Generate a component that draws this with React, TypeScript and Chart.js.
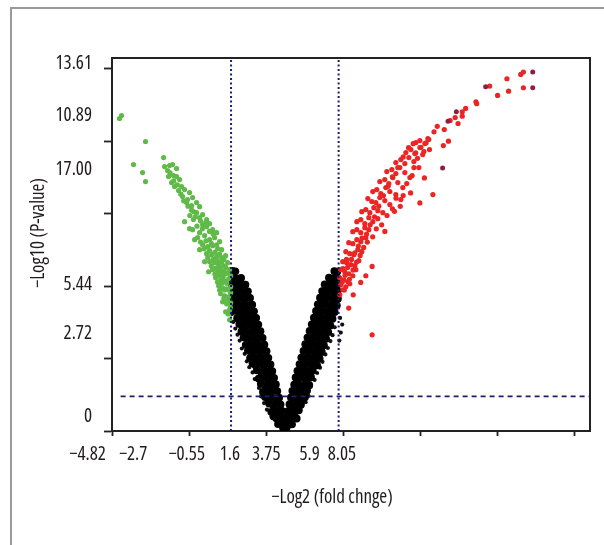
import React, { useEffect, useRef } from 'react';
import { Chart, registerables } from 'chart.js';

Chart.register(...registerables);

// ---------- axis data ----------
const xMin = -4.82;
const xMax = 8.51;
const yMin = 0;
const yMax = 14.02;
const xTickValues = [-4.82, -2.67, -0.52, 1.63, 3.78, 5.93, 8.08];
const xTickLabels = ['\u22124.82', '\u22122.7', '\u22120.55', '1.6', '3.75', '5.9', '8.05'];
const xLabelAt = [-5.5, -4.23, -2.737, -1.533, -0.518, 0.69, 1.593];
const yTickValues = [0, 2.722, 5.444, 8.166, 10.888, 13.61];
const yTickLabels = ['13.61', '10.89', '17.00', '5.44', '2.72', '0'];
const yLabelAt = [13.806, 11.844, 9.826, 5.497, 3.652, 0.527];
const xThresholds = [-1.5, 1.5];
const yThreshold = 1.3;
const xTitle = '\u2212Log2 (fold chnge)';
const yTitle = '\u2212Log10 (P-value)';

// ---------- series data [log2FC, -log10 p] ----------
const blackLeft: number[][] = [
  [0.0, 0.04], [-0.05, 0.12], [0.05, 0.12],
  [-0.03, 0.28], [-0.11, 0.3], [-0.19, 0.26],
  [-0.05, 0.5], [-0.14, 0.52], [-0.24, 0.48], [-0.32, 0.55],
  [-0.08, 0.76], [-0.18, 0.74], [-0.28, 0.78], [-0.38, 0.72],
  [-0.12, 1.0], [-0.22, 1.02], [-0.33, 0.98], [-0.44, 1.03],
  [-0.16, 1.25], [-0.26, 1.23], [-0.37, 1.27], [-0.48, 1.22], [-0.55, 1.28],
  [-0.21, 1.5], [-0.31, 1.52], [-0.41, 1.48], [-0.52, 1.53], [-0.61, 1.47],
  [-0.25, 1.75], [-0.35, 1.73], [-0.46, 1.77], [-0.56, 1.72], [-0.67, 1.78],
  [-0.3, 2.0], [-0.4, 2.02], [-0.5, 1.98], [-0.61, 2.03], [-0.73, 1.97],
  [-0.35, 2.25], [-0.45, 2.23], [-0.56, 2.27], [-0.66, 2.22], [-0.78, 2.28],
  [-0.4, 2.5], [-0.5, 2.52], [-0.61, 2.48], [-0.71, 2.53], [-0.82, 2.47], [-0.9, 2.55],
  [-0.46, 2.75], [-0.56, 2.73], [-0.66, 2.77], [-0.77, 2.72], [-0.88, 2.78], [-0.97, 2.74],
  [-0.51, 3.0], [-0.61, 3.02], [-0.72, 2.98], [-0.83, 3.03], [-0.93, 2.97], [-1.03, 3.02],
  [-0.57, 3.25], [-0.67, 3.23], [-0.78, 3.27], [-0.88, 3.22], [-0.99, 3.28], [-1.09, 3.24],
  [-0.62, 3.5], [-0.72, 3.52], [-0.83, 3.48], [-0.94, 3.53], [-1.05, 3.47], [-1.15, 3.52],
  [-0.68, 3.75], [-0.78, 3.73], [-0.89, 3.77], [-1.0, 3.72], [-1.1, 3.78], [-1.21, 3.74],
  [-0.74, 4.0], [-0.84, 4.02], [-0.95, 3.98], [-1.05, 4.03], [-1.16, 3.97], [-1.27, 4.02],
  [-0.8, 4.25], [-0.9, 4.23], [-1.0, 4.27], [-1.11, 4.22], [-1.22, 4.28], [-1.33, 4.24],
  [-0.86, 4.5], [-0.96, 4.52], [-1.06, 4.48], [-1.17, 4.53], [-1.28, 4.47], [-1.39, 4.52],
  [-0.91, 4.75], [-1.01, 4.73], [-1.12, 4.77], [-1.23, 4.72], [-1.34, 4.78], [-1.45, 4.74],
  [-0.97, 5.0], [-1.07, 5.02], [-1.18, 4.98], [-1.29, 5.03], [-1.4, 4.97], [-1.48, 5.02],
  [-1.03, 5.25], [-1.13, 5.23], [-1.24, 5.27], [-1.35, 5.22], [-1.46, 5.28],
  [-1.1, 5.5], [-1.2, 5.52], [-1.3, 5.48], [-1.4, 5.53], [-1.48, 5.47],
  [-1.22, 5.75], [-1.32, 5.73], [-1.42, 5.77], [-1.48, 5.72],
  [-1.38, 6.0], [-1.46, 6.02],
];

const blackRight: number[][] = [
  [0.04, 0.26], [0.12, 0.29], [0.2, 0.25],
  [0.06, 0.51], [0.15, 0.49], [0.25, 0.53], [0.33, 0.47],
  [0.09, 0.75], [0.19, 0.77], [0.29, 0.73], [0.39, 0.78],
  [0.13, 1.01], [0.23, 0.98], [0.34, 1.03], [0.45, 0.99],
  [0.17, 1.26], [0.27, 1.24], [0.38, 1.28], [0.49, 1.23], [0.56, 1.27],
  [0.21, 1.51], [0.31, 1.49], [0.42, 1.53], [0.53, 1.48], [0.62, 1.52],
  [0.26, 1.74], [0.36, 1.76], [0.47, 1.72], [0.57, 1.77], [0.68, 1.73],
  [0.3, 2.01], [0.4, 1.99], [0.51, 2.03], [0.62, 1.98], [0.73, 2.02],
  [0.35, 2.26], [0.45, 2.24], [0.56, 2.28], [0.67, 2.23], [0.78, 2.27],
  [0.41, 2.51], [0.51, 2.49], [0.62, 2.53], [0.72, 2.48], [0.83, 2.52], [0.9, 2.47],
  [0.46, 2.76], [0.56, 2.74], [0.67, 2.78], [0.78, 2.73], [0.88, 2.77], [0.97, 2.72],
  [0.52, 3.01], [0.62, 2.99], [0.73, 3.03], [0.84, 2.98], [0.94, 3.02], [1.03, 2.97],
  [0.57, 3.26], [0.67, 3.24], [0.78, 3.28], [0.89, 3.23], [1.0, 3.27], [1.09, 3.22],
  [0.63, 3.51], [0.73, 3.49], [0.84, 3.53], [0.95, 3.48], [1.05, 3.52], [1.15, 3.47],
  [0.69, 3.76], [0.79, 3.74], [0.9, 3.78], [1.0, 3.73], [1.11, 3.77], [1.21, 3.72],
  [0.75, 4.01], [0.85, 3.99], [0.96, 4.03], [1.06, 3.98], [1.17, 4.02], [1.27, 3.97],
  [0.81, 4.26], [0.91, 4.24], [1.01, 4.28], [1.12, 4.23], [1.23, 4.27], [1.33, 4.22],
  [0.87, 4.51], [0.97, 4.49], [1.07, 4.53], [1.18, 4.48], [1.29, 4.52], [1.39, 4.47],
  [0.92, 4.76], [1.02, 4.74], [1.13, 4.78], [1.24, 4.73], [1.35, 4.77], [1.45, 4.72],
  [0.98, 5.01], [1.08, 4.99], [1.19, 5.03], [1.3, 4.98], [1.41, 5.02], [1.48, 4.97],
  [1.04, 5.26], [1.14, 5.24], [1.25, 5.28], [1.36, 5.23], [1.47, 5.27],
  [1.11, 5.51], [1.21, 5.49], [1.31, 5.53], [1.41, 5.48], [1.48, 5.52],
  [1.23, 5.76], [1.33, 5.74], [1.43, 5.78], [1.48, 5.73],
  [1.38, 6.01], [1.46, 5.99],
];

const blackScatter: number[][] = [
  [-0.66, 1.3], [-0.72, 1.62], [-0.84, 1.95], [-0.9, 2.2], [-0.99, 2.4], [-1.06, 2.62],
  [-1.12, 2.9], [-1.2, 3.1], [-1.26, 3.4], [-1.32, 3.62], [-1.38, 3.85], [-1.44, 4.1],
  [-1.47, 4.4], [-0.58, 1.05], [-0.5, 0.8],
  [0.66, 1.32], [0.72, 1.66], [0.83, 1.92], [0.9, 2.18], [0.98, 2.38], [1.05, 2.6],
  [1.13, 2.88], [1.2, 3.12], [1.27, 3.38], [1.33, 3.6], [1.52, 3.4], [1.56, 3.7],
  [1.6, 4.0], [1.54, 4.25], [1.39, 3.9], [0.58, 1.08],
];

const greenPoints: number[][] = [
  [-4.611, 11.746], [-4.555, 11.859], [-3.885, 10.881], [-4.22, 10.015], [-3.968, 9.713],
  [-3.885, 9.375], [-3.382, 10.278], [-3.354, 9.939], [-3.215, 9.977], [-3.131, 10.015],
  [-3.019, 9.864], [-3.27, 9.788], [-3.242, 9.563], [-3.103, 9.6], [-3.019, 9.563],
  [-2.935, 9.45], [-3.159, 9.337], [-3.075, 9.186], [-2.879, 9.186], [-2.963, 9.036],
  [-2.796, 9.073], [-2.851, 8.81], [-2.656, 8.96], [-2.572, 8.772], [-2.712, 8.697],
  [-2.74, 8.584], [-2.461, 8.584], [-2.377, 8.433], [-2.6, 8.471], [-2.461, 8.208],
  [-2.293, 8.132], [-2.181, 7.944], [-2.377, 8.019], [-2.544, 8.245], [-2.572, 7.567],
  [-2.377, 7.455], [-2.181, 7.68], [-2.014, 7.567], [-1.902, 7.455], [-2.293, 7.756],
  [-2.098, 7.793],
  [-2.433, 7.266], [-2.237, 7.342], [-2.098, 7.191], [-1.958, 7.266], [-1.818, 7.116],
  [-2.293, 7.003], [-2.153, 6.927], [-2.014, 6.965], [-1.874, 6.852], [-1.763, 6.814],
  [-2.181, 6.664], [-2.042, 6.626], [-1.902, 6.551], [-1.763, 6.513], [-1.651, 6.589],
  [-2.098, 6.363], [-1.958, 6.325], [-1.846, 6.25], [-1.707, 6.212], [-1.595, 6.325],
  [-2.014, 6.062], [-1.874, 5.986], [-1.763, 5.949], [-1.651, 5.911], [-1.539, 6.062],
  [-1.93, 5.76], [-1.79, 5.685], [-1.679, 5.647], [-1.567, 5.723], [-1.511, 5.836],
  [-1.846, 5.459], [-1.735, 5.384], [-1.623, 5.346], [-1.511, 5.421],
  [-1.79, 5.158], [-1.679, 5.083], [-1.567, 5.045], [-1.511, 5.196],
  [-1.735, 4.857], [-1.623, 4.781], [-1.511, 4.819],
  [-1.651, 4.48], [-1.539, 4.556], [-1.539, 4.179],
  [-2.796, 7.869], [-2.656, 7.605], [-2.516, 7.191], [-2.377, 6.814], [-2.237, 6.363],
  [-2.126, 5.986],
  [-2.35, 7.1], [-2.2, 7.15], [-2.05, 7.05], [-1.9, 7.0], [-2.25, 6.85], [-2.1, 6.78],
  [-1.95, 6.72], [-1.82, 6.65], [-1.7, 6.45], [-2.15, 6.52], [-2.0, 6.45], [-1.88, 6.4],
  [-1.76, 6.35], [-1.65, 6.15], [-2.05, 6.2], [-1.92, 6.12], [-1.8, 6.1], [-1.7, 6.0],
  [-1.58, 5.95], [-1.95, 5.9], [-1.83, 5.85], [-1.72, 5.8], [-1.62, 5.55], [-1.88, 5.6],
  [-1.76, 5.55], [-1.68, 5.3], [-1.56, 5.3], [-1.82, 5.3], [-1.7, 5.0], [-1.6, 4.9],
  [-1.52, 4.65], [-1.58, 4.4],
  [-2.5, 8.05], [-2.35, 7.9], [-2.2, 7.85], [-2.45, 7.7], [-2.3, 7.6], [-2.1, 7.5],
  [-2.0, 7.4], [-2.6, 8.3], [-2.7, 8.45], [-2.82, 8.65], [-2.9, 8.9], [-3.0, 9.25],
  [-3.1, 9.4], [-3.2, 9.7], [-2.55, 7.95], [-2.65, 8.1],
];

const redPoints: number[][] = [
  [1.532, 5.12], [1.616, 5.309], [1.7, 5.422], [1.56, 5.497],
  [1.532, 5.76], [1.644, 5.685], [1.755, 5.61], [1.811, 5.534],
  [1.56, 6.062], [1.672, 5.986], [1.783, 5.911], [1.895, 5.836], [1.979, 6.062],
  [1.616, 6.363], [1.727, 6.325], [1.839, 6.25], [1.951, 6.213], [2.063, 6.401],
  [1.7, 6.739], [1.811, 6.664], [1.923, 6.626], [2.035, 6.814], [2.146, 6.739],
  [1.783, 7.078], [1.895, 7.04], [2.007, 7.191], [2.118, 7.116], [2.258, 7.266],
  [1.895, 7.492], [2.007, 7.567], [2.118, 7.454], [2.23, 7.643], [2.342, 7.567],
  [2.007, 7.869], [2.118, 7.944], [2.23, 7.794], [2.342, 8.019], [2.453, 7.869], [2.593, 7.982],
  [2.146, 8.245], [2.258, 8.321], [2.37, 8.207], [2.481, 8.395], [2.593, 8.283], [2.733, 8.207],
  [2.425, 8.622], [2.537, 8.584], [2.649, 8.772], [2.788, 8.66], [2.928, 8.509], [2.315, 8.735],
  [2.453, 8.998], [2.565, 9.073], [2.677, 8.923], [2.816, 9.149], [2.928, 8.998], [3.095, 8.885], [3.235, 8.697],
  [2.649, 9.375], [2.788, 9.45], [2.9, 9.299], [3.012, 9.525], [3.151, 9.337], [3.291, 9.149],
  [2.844, 9.751], [2.984, 9.826], [3.095, 9.676], [3.207, 9.902], [3.347, 9.713], [3.487, 9.525],
  [3.095, 10.09], [3.235, 10.203], [3.347, 10.052], [3.459, 10.278], [3.598, 10.128], [3.738, 9.902],
  [3.375, 10.466], [3.515, 10.579], [3.626, 10.429], [3.766, 10.654], [3.878, 10.504],
  [3.654, 10.843], [3.766, 10.918], [3.905, 10.805], [3.989, 10.993],
  [6.578, 13.403], [6.653, 13.49], [6.193, 13.241], [6.24, 12.774], [6.653, 12.902],
  [5.712, 12.963], [5.933, 12.612], [5.33, 12.375], [5.042, 12.123], [4.947, 11.999],
  [4.947, 11.833], [4.61, 11.671], [4.83, 11.558], [4.447, 11.332], [4.16, 11.246],
  [4.562, 10.892], [4.015, 10.956], [3.939, 10.832], [3.794, 10.666], [4.034, 10.579],
  [3.844, 10.391], [3.651, 10.455], [4.42, 10.73], [3.892, 9.514], [4.129, 8.885],
  [3.766, 8.573], [3.507, 8.949], [3.219, 8.445], [3.057, 8.256], [2.789, 7.503],
  [2.434, 6.186], [2.258, 5.836], [2.116, 5.583], [1.907, 5.12], [1.781, 4.62],
  [2.434, 3.614], [5.35, 12.3], [4.75, 11.78], [4.25, 11.45],
  [1.6, 5.6], [1.68, 5.85], [1.75, 6.15], [1.86, 6.45], [1.95, 6.7], [2.05, 6.95],
  [2.15, 7.25], [2.28, 7.4], [2.38, 7.75], [2.5, 8.05], [2.62, 8.45], [2.75, 8.85],
  [2.88, 9.2], [3.0, 9.55], [3.15, 9.9], [3.3, 10.3], [3.45, 10.65], [3.58, 10.8],
  [1.9, 6.05], [2.0, 6.35], [2.1, 6.6], [2.2, 6.9], [2.3, 7.1], [2.45, 7.3],
  [2.55, 7.6], [2.7, 7.75], [2.85, 8.1], [3.0, 8.35], [3.1, 8.75], [3.3, 8.85],
  [3.4, 9.3], [3.55, 9.6], [3.6, 9.9], [3.7, 10.25], [1.66, 5.3], [1.8, 5.7],
  [1.72, 6.45], [1.62, 6.1],
];

const redDark: number[][] = [
  [6.913, 13.49], [6.913, 12.902], [4.783, 11.999], [4.4, 9.89], [5.6, 12.94], [4.55, 11.64],
];

// ---------- styling ----------
const FONT_FAMILY = '"Open Sans", "Liberation Sans", sans-serif';
const FONT_SIZE = 19;
const FONT_STRETCH = 'condensed';
const AXIS_COLOR = '#222222';
const TEXT_COLOR = '#1f1a1b';
const DASH_COLOR = '#1d1d6e';

const toXY = (arr: number[][]) => arr.map(([x, y]) => ({ x, y }));

function makeTicks(marks: number[], at: number[], labels: string[]) {
  const t: any[] = [];
  t.push({ value: marks[0], mark: true, text: '' });
  at.forEach((v, i) => t.push({ value: v, mark: false, text: labels[i] }));
  marks.slice(1).forEach((v) => t.push({ value: v, mark: true, text: '' }));
  return t;
}

const titlePlugin = {
  id: 'axisTitles',
  afterDraw(chart: any) {
    const ctx = chart.ctx;
    const { left, bottom, top } = chart.chartArea;
    ctx.save();
    ctx.fillStyle = TEXT_COLOR;
    ctx.font = `${FONT_STRETCH} ${FONT_SIZE}px ${FONT_FAMILY}`;
    ctx.textAlign = 'center';
    ctx.textBaseline = 'middle';
    ctx.fillText(xTitle, left + 220, bottom + 67);
    ctx.translate(left - 73.5, top + 175);
    ctx.rotate(-Math.PI / 2);
    ctx.fillText(yTitle, 0, 0);
    ctx.restore();
  },
};

export default function App() {
  const canvasRef = useRef<HTMLCanvasElement | null>(null);

  useEffect(() => {
    if (!canvasRef.current) return;
    const tickMarkColor = (c: any) => (c.tick && c.tick.mark ? AXIS_COLOR : 'rgba(0,0,0,0)');
    const tickFont = { family: FONT_FAMILY, size: FONT_SIZE, weight: FONT_STRETCH };
    const pointDs = (label: string, data: number[][], color: string, r: number, order: number) => ({
      label,
      data: toXY(data),
      backgroundColor: color,
      borderColor: color,
      borderWidth: 0,
      pointRadius: r,
      pointHoverRadius: r,
      pointStyle: 'circle',
      order,
    });
    const lineDs = (data: { x: number; y: number }[], dash: number[], width: number) => ({
      label: 'threshold',
      data,
      showLine: true,
      borderColor: DASH_COLOR,
      borderWidth: width,
      borderDash: dash,
      pointRadius: 0,
      fill: false,
      order: 0,
    });

    const chart = new Chart(canvasRef.current, {
      type: 'scatter',
      data: {
        datasets: [
          lineDs([{ x: xThresholds[0], y: yMin }, { x: xThresholds[0], y: yMax }], [2, 2.5], 2),
          lineDs([{ x: xThresholds[1], y: yMin }, { x: xThresholds[1], y: yMax }], [2, 2.5], 2),
          lineDs([{ x: -4.58, y: yThreshold }, { x: xMax, y: yThreshold }], [5, 4], 1.8),
          pointDs('down', greenPoints, '#5fba48', 2.6, 3),
          pointDs('up', redPoints, '#ec2424', 2.6, 3),
          pointDs('up-dark', redDark, '#8e1f3f', 2.5, 2),
          pointDs('ns', blackLeft, '#000000', 3.9, 4),
          pointDs('ns', blackRight, '#000000', 3.9, 4),
          pointDs('ns-scatter', blackScatter, '#111111', 2.1, 4),
        ] as any,
      },
      options: {
        responsive: false,
        animation: false,
        events: [],
        layout: { padding: 0 },
        plugins: { legend: { display: false }, tooltip: { enabled: false }, title: { display: false } },
        scales: {
          x: {
            type: 'linear',
            position: 'bottom',
            min: xMin,
            max: xMax,
            bounds: 'data',
            afterBuildTicks: (axis: any) => {
              axis.ticks = makeTicks(xTickValues, xLabelAt, xTickLabels);
            },
            afterFit: (axis: any) => {
              axis.height = 114;
              axis.paddingLeft = 0;
              axis.paddingRight = 0;
            },
            grid: {
              display: true,
              drawOnChartArea: false,
              drawTicks: true,
              tickLength: 5,
              tickWidth: 1.8,
              tickColor: tickMarkColor,
            },
            border: { display: true, color: AXIS_COLOR, width: 2 },
            ticks: {
              autoSkip: false,
              maxRotation: 0,
              minRotation: 0,
              padding: 7,
              color: TEXT_COLOR,
              font: tickFont,
              callback: (_v: any, i: number, ticks: any[]) => ticks[i].text,
            },
          },
          y: {
            type: 'linear',
            position: 'left',
            min: yMin,
            max: yMax,
            bounds: 'data',
            afterBuildTicks: (axis: any) => {
              axis.ticks = makeTicks(yTickValues, yLabelAt, yTickLabels);
            },
            afterFit: (axis: any) => {
              axis.width = 112;
              axis.paddingTop = 0;
              axis.paddingBottom = 0;
            },
            grid: {
              display: true,
              drawOnChartArea: false,
              drawTicks: true,
              tickLength: 8,
              tickWidth: 1.8,
              tickColor: tickMarkColor,
            },
            border: { display: true, color: AXIS_COLOR, width: 2 },
            ticks: {
              autoSkip: false,
              padding: 12,
              color: TEXT_COLOR,
              font: tickFont,
              callback: (_v: any, i: number, ticks: any[]) => ticks[i].text,
            },
          },
          xTop: {
            type: 'linear',
            position: 'top',
            min: xMin,
            max: xMax,
            ticks: { display: false },
            grid: { display: false, drawTicks: false },
            border: { display: true, color: AXIS_COLOR, width: 2 },
            afterFit: (axis: any) => {
              axis.height = 58;
            },
          },
          yRight: {
            type: 'linear',
            position: 'right',
            min: yMin,
            max: yMax,
            ticks: { display: false },
            grid: { display: false, drawTicks: false },
            border: { display: true, color: AXIS_COLOR, width: 2 },
            afterFit: (axis: any) => {
              axis.width = 14;
            },
          },
        } as any,
      },
      plugins: [titlePlugin as any],
    });
    return () => chart.destroy();
  }, []);

  return (
    <div
      style={{
        position: 'fixed',
        left: 0,
        top: 0,
        width: 604,
        height: 545,
        background: '#ffffff',
        overflow: 'hidden',
      }}
    >
      <div
        style={{
          position: 'absolute',
          left: 10,
          top: 7,
          right: -4,
          bottom: -4,
          borderLeft: '2px solid #9a9a9a',
          borderTop: '2px solid #9a9a9a',
        }}
      />
      <canvas ref={canvasRef} width={604} height={545} style={{ position: 'absolute', left: 0, top: 0 }} />
    </div>
  );
}
